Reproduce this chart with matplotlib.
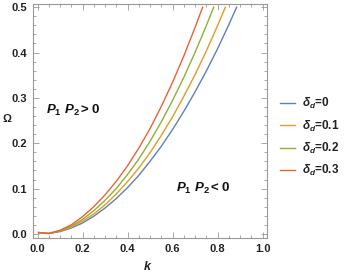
import matplotlib
matplotlib.use("Agg")
import matplotlib.pyplot as plt
from matplotlib.ticker import MultipleLocator

plt.rcParams['font.family'] = ['Liberation Sans', 'DejaVu Sans']
plt.rcParams['mathtext.fontset'] = 'custom'
plt.rcParams['mathtext.rm'] = 'Liberation Sans:bold'
plt.rcParams['mathtext.it'] = 'Liberation Sans:bold:italic'
plt.rcParams['mathtext.bf'] = 'Liberation Sans:bold'

# data
k_blue = [0.005, 0.05, 0.10, 0.15, 0.20, 0.25, 0.30, 0.35, 0.40, 0.45, 0.50, 0.55, 0.60, 0.65, 0.70, 0.75, 0.80, 0.85, 0.885]
w_blue = [0.003, 0.001, 0.005, 0.013, 0.024, 0.039, 0.057, 0.078, 0.102, 0.129, 0.160, 0.193, 0.230, 0.270, 0.313, 0.359, 0.408, 0.461, 0.500]
k_orange = [0.005, 0.05, 0.10, 0.15, 0.20, 0.25, 0.30, 0.35, 0.40, 0.45, 0.50, 0.55, 0.60, 0.65, 0.70, 0.75, 0.80, 0.835]
w_orange = [0.003, 0.001, 0.006, 0.015, 0.028, 0.044, 0.064, 0.088, 0.115, 0.145, 0.179, 0.217, 0.258, 0.303, 0.351, 0.403, 0.459, 0.500]
k_green = [0.005, 0.05, 0.10, 0.15, 0.20, 0.25, 0.30, 0.35, 0.40, 0.45, 0.50, 0.55, 0.60, 0.65, 0.70, 0.75, 0.783]
w_green = [0.003, 0.001, 0.007, 0.017, 0.032, 0.051, 0.074, 0.100, 0.131, 0.165, 0.204, 0.247, 0.294, 0.345, 0.400, 0.459, 0.500]
k_red = [0.005, 0.05, 0.10, 0.15, 0.20, 0.25, 0.30, 0.35, 0.40, 0.45, 0.50, 0.55, 0.60, 0.65, 0.70, 0.734]
w_red = [0.003, 0.001, 0.008, 0.020, 0.038, 0.060, 0.086, 0.116, 0.150, 0.189, 0.232, 0.281, 0.334, 0.392, 0.455, 0.500]

series = [
    (k_blue, w_blue, '#5E81B5', r'$\delta_d$=0'),
    (k_orange, w_orange, '#E19C24', r'$\delta_d$=0.1'),
    (k_green, w_green, '#8FB032', r'$\delta_d$=0.2'),
    (k_red, w_red, '#EB6235', r'$\delta_d$=0.3'),
]

fig = plt.figure(figsize=(3.46, 2.76), dpi=100)
ax = fig.add_axes([33/346, 1-238/276, (267-33)/346, (238-4)/276])

handles = []
for kk, ww, c, lab in series:
    h, = ax.plot(kk, ww, color=c, lw=1.0, label=lab)
    handles.append(h)

ax.set_xlim(-0.02, 1.02)
ax.set_ylim(-0.009, 0.507)
ax.xaxis.set_major_locator(MultipleLocator(0.2))
ax.xaxis.set_minor_locator(MultipleLocator(0.05))
ax.yaxis.set_major_locator(MultipleLocator(0.1))
ax.yaxis.set_minor_locator(MultipleLocator(0.02))
ax.xaxis.set_major_formatter(matplotlib.ticker.FormatStrFormatter('%.1f'))
ax.yaxis.set_major_formatter(matplotlib.ticker.FormatStrFormatter('%.1f'))

for s in ax.spines.values():
    s.set_color('#999999')
    s.set_linewidth(0.8)
ax.tick_params(which='both', direction='in', top=True, right=True, color='#999999', width=0.6)
ax.tick_params(which='major', length=4, pad=4, labelsize=8, labelcolor='#222222')
ax.tick_params(which='minor', length=2)
for lbl in ax.get_xticklabels() + ax.get_yticklabels():
    lbl.set_fontweight('bold')

fig.text(148/346, 1-267/276, r'$k$', fontsize=9, ha='center', va='center', color='#222222')
fig.text(7/346, 1-118/276, r'$\Omega$', fontsize=8, ha='center', va='center', color='#222222')

ax.text(0.04, 0.272, r'$P_1\ P_2 > 0$', fontsize=9.5, ha='left', va='center', color='#111111')
ax.text(0.615, 0.100, r'$P_1\ P_2 < 0$', fontsize=9.5, ha='left', va='center', color='#111111')

leg = fig.legend(handles=handles, loc='upper left', bbox_to_anchor=(280/346, 1-96/276),
                 frameon=False, fontsize=8.5, handlelength=1.3, handletextpad=0.6,
                 labelspacing=0.62, borderpad=0, borderaxespad=0)
for t in leg.get_texts():
    t.set_color('#222222')
    t.set_fontweight('bold')

fig.savefig('out.png', dpi=100)
